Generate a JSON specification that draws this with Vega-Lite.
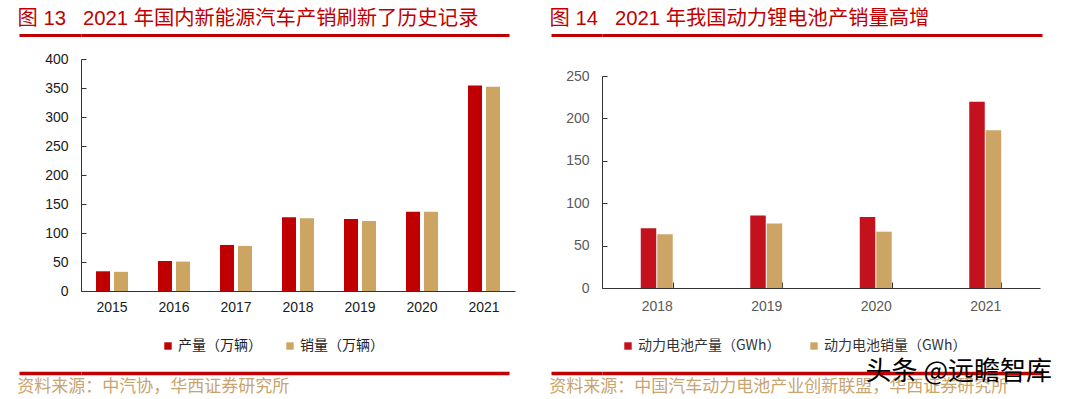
{
  "$schema": "https://vega.github.io/schema/vega-lite/v6.json",
  "background": "white",
  "padding": {"left": 17, "top": 9, "right": 0, "bottom": 0},
  "config": {
    "font": "Noto Sans CJK SC",
    "view": {"stroke": null}
  },
  "resolve": {"scale": {"x": "independent", "y": "independent", "color": "independent", "xOffset": "independent"}, "legend": {"color": "independent"}},
  "spacing": 34,
  "hconcat": [
    {
      "columns": 1,
      "align": "none",
      "spacing": 12,
      "resolve": {"scale": {"x": "independent", "y": "independent", "color": "independent", "xOffset": "independent"}, "legend": {"color": "independent"}},
      "concat": [
        {
          "title": {"text": "图 13\u00a0\u00a0\u00a02021 年国内新能源汽车产销刷新了历史记录", "anchor": "start", "fontSize": 20.3, "fontWeight": "normal", "color": "#C00000", "font": "Liberation Sans, Noto Sans CJK SC", "offset": 4},
          "width": 428,
          "height": 4.5,
          "data": {"values": [{"v": 0}]},
          "mark": {"type": "point", "size": 0, "opacity": 0, "strokeWidth": 0},
          "encoding": {
            "x": {"field": "v", "type": "quantitative", "scale": {"domain": [0, 1]}, "axis": {"orient": "top", "domainColor": "#C00000", "domainWidth": 3, "domainCap": "butt", "ticks": false, "labels": false, "grid": false, "title": null}},
            "y": {"field": "v", "type": "quantitative", "scale": {"domain": [0, 1]}, "axis": {"orient": "left", "values": [1], "domain": false, "labels": false, "grid": false, "title": null, "ticks": true, "tickSize": 62, "tickWidth": 3, "tickColor": "#C00000", "tickCap": "butt", "minExtent": 62, "maxExtent": 62}}
          }
        },
        {
          "width": 434,
          "height": 232,
          "data": {"values": [
            {"year": "2015", "series": "产量（万辆）", "value": 34.0},
            {"year": "2015", "series": "销量（万辆）", "value": 33.1},
            {"year": "2016", "series": "产量（万辆）", "value": 51.7},
            {"year": "2016", "series": "销量（万辆）", "value": 50.7},
            {"year": "2017", "series": "产量（万辆）", "value": 79.4},
            {"year": "2017", "series": "销量（万辆）", "value": 77.7},
            {"year": "2018", "series": "产量（万辆）", "value": 127.0},
            {"year": "2018", "series": "销量（万辆）", "value": 125.6},
            {"year": "2019", "series": "产量（万辆）", "value": 124.2},
            {"year": "2019", "series": "销量（万辆）", "value": 120.6},
            {"year": "2020", "series": "产量（万辆）", "value": 136.6},
            {"year": "2020", "series": "销量（万辆）", "value": 136.7},
            {"year": "2021", "series": "产量（万辆）", "value": 354.5},
            {"year": "2021", "series": "销量（万辆）", "value": 352.1}
          ]},
          "mark": {"type": "bar"},
          "encoding": {
            "x": {"field": "year", "type": "nominal", "scale": {"paddingInner": 0.4839, "paddingOuter": 0.2419},
              "axis": {"title": null, "labelAngle": 0, "labelFont": "Liberation Sans", "labelFontSize": 14, "labelColor": "#1a1a1a", "ticks": false, "labelPadding": 9, "domainColor": "#333333", "domainWidth": 1}},
            "xOffset": {"field": "series", "type": "nominal", "sort": ["产量（万辆）", "销量（万辆）"], "scale": {"paddingInner": 0.2222, "paddingOuter": 0}},
            "y": {"field": "value", "type": "quantitative", "scale": {"domain": [0, 400]},
              "axis": {"title": null, "values": [0, 50, 100, 150, 200, 250, 300, 350, 400], "grid": false, "labelFont": "Liberation Sans", "labelFontSize": 14, "labelColor": "#1a1a1a", "tickSize": -5, "tickColor": "#333333", "labelPadding": 18, "domainColor": "#333333", "minExtent": 62, "maxExtent": 62}},
            "color": {"field": "series", "type": "nominal", "sort": ["产量（万辆）", "销量（万辆）"],
              "scale": {"domain": ["产量（万辆）", "销量（万辆）"], "range": ["#C00000", "#CDA563"]},
              "legend": {"orient": "none", "legendX": 80, "legendY": 280, "direction": "horizontal", "title": null, "symbolType": "square", "symbolSize": 55, "symbolStrokeWidth": 0, "labelFontSize": 14, "labelFont": "Noto Sans CJK SC", "labelColor": "#222222", "columnPadding": 21, "labelOffset": 3}}
          }
        },
        {
          "title": {"text": "资料来源：中汽协，华西证券研究所", "orient": "bottom", "anchor": "start", "fontSize": 17, "fontWeight": "normal", "color": "#C8A46E", "offset": 4},
          "width": 428,
          "height": 8,
          "data": {"values": [{"v": 0}]},
          "mark": {"type": "point", "size": 0, "opacity": 0, "strokeWidth": 0},
          "encoding": {
            "x": {"field": "v", "type": "quantitative", "scale": {"domain": [0, 1]}, "axis": {"orient": "bottom", "domainColor": "#C00000", "domainWidth": 3.5, "domainCap": "butt", "ticks": false, "labels": false, "grid": false, "title": null}},
            "y": {"field": "v", "type": "quantitative", "scale": {"domain": [0, 1]}, "axis": {"orient": "left", "values": [0], "domain": false, "labels": false, "grid": false, "title": null, "ticks": true, "tickSize": 62, "tickWidth": 3.5, "tickColor": "#C00000", "tickCap": "butt", "minExtent": 62, "maxExtent": 62}}
          }
        }
      ]
    },
    {
      "columns": 1,
      "align": "none",
      "spacing": 12,
      "resolve": {"scale": {"x": "independent", "y": "independent", "color": "independent", "xOffset": "independent"}, "legend": {"color": "independent"}},
      "title": {"text": "头条 @远瞻智库", "orient": "bottom", "anchor": "end", "fontSize": 26, "fontWeight": "normal", "color": "#000000", "offset": -36, "dx": 10},
      "concat": [
        {
          "title": {"text": "图 14\u00a0\u00a0\u00a02021 年我国动力锂电池产销量高增", "anchor": "start", "fontSize": 20.3, "fontWeight": "normal", "color": "#C00000", "font": "Liberation Sans, Noto Sans CJK SC", "offset": 4},
          "width": 440,
          "height": 22,
          "data": {"values": [{"v": 0}]},
          "mark": {"type": "point", "size": 0, "opacity": 0, "strokeWidth": 0},
          "encoding": {
            "x": {"field": "v", "type": "quantitative", "scale": {"domain": [0, 1]}, "axis": {"orient": "top", "domainColor": "#C00000", "domainWidth": 3, "domainCap": "butt", "ticks": false, "labels": false, "grid": false, "title": null}},
            "y": {"field": "v", "type": "quantitative", "scale": {"domain": [0, 1]}, "axis": {"orient": "left", "values": [1], "domain": false, "labels": false, "grid": false, "title": null, "ticks": true, "tickSize": 51, "tickWidth": 3, "tickColor": "#C00000", "tickCap": "butt", "minExtent": 51, "maxExtent": 51}}
          }
        },
        {
          "width": 438,
          "height": 212,
          "data": {"values": [
            {"year": "2018", "series": "动力电池产量（GWh）", "value": 70.6},
            {"year": "2018", "series": "动力电池销量（GWh）", "value": 63.5},
            {"year": "2019", "series": "动力电池产量（GWh）", "value": 85.5},
            {"year": "2019", "series": "动力电池销量（GWh）", "value": 76.0},
            {"year": "2020", "series": "动力电池产量（GWh）", "value": 83.8},
            {"year": "2020", "series": "动力电池销量（GWh）", "value": 66.4},
            {"year": "2021", "series": "动力电池产量（GWh）", "value": 219.7},
            {"year": "2021", "series": "动力电池销量（GWh）", "value": 186.0}
          ]},
          "mark": {"type": "bar"},
          "encoding": {
            "x": {"field": "year", "type": "nominal", "scale": {"paddingInner": 0.7078, "paddingOuter": 0.3539},
              "axis": {"title": null, "labelAngle": 0, "labelFont": "Liberation Sans", "labelFontSize": 14, "labelColor": "#595959", "ticks": true, "tickBand": "extent", "tickSize": -6, "tickColor": "#333333", "labelPadding": 17, "domainColor": "#333333", "domainWidth": 1}},
            "xOffset": {"field": "series", "type": "nominal", "sort": ["动力电池产量（GWh）", "动力电池销量（GWh）"], "scale": {"paddingInner": 0.0606, "paddingOuter": 0}},
            "y": {"field": "value", "type": "quantitative", "scale": {"domain": [0, 250]},
              "axis": {"title": null, "values": [0, 50, 100, 150, 200, 250], "grid": false, "labelFont": "Liberation Sans", "labelFontSize": 14, "labelColor": "#595959", "tickSize": -5, "tickColor": "#333333", "labelPadding": 18, "domainColor": "#333333", "minExtent": 51, "maxExtent": 51}},
            "color": {"field": "series", "type": "nominal", "sort": ["动力电池产量（GWh）", "动力电池销量（GWh）"],
              "scale": {"domain": ["动力电池产量（GWh）", "动力电池销量（GWh）"], "range": ["#C3111E", "#CCA566"]},
              "legend": {"orient": "none", "legendX": 19, "legendY": 263, "direction": "horizontal", "title": null, "symbolType": "square", "symbolSize": 55, "symbolStrokeWidth": 0, "labelFontSize": 14, "labelFont": "Noto Sans CJK SC", "labelColor": "#333333", "columnPadding": 26, "labelOffset": 3}}
          }
        },
        {
          "title": {"text": "资料来源：中国汽车动力电池产业创新联盟，华西证券研究所", "orient": "bottom", "anchor": "start", "fontSize": 17, "fontWeight": "normal", "color": "#C8A46E", "offset": 4},
          "width": 440,
          "height": 8,
          "data": {"values": [{"v": 0}]},
          "mark": {"type": "point", "size": 0, "opacity": 0, "strokeWidth": 0},
          "encoding": {
            "x": {"field": "v", "type": "quantitative", "scale": {"domain": [0, 1]}, "axis": {"orient": "bottom", "domainColor": "#C00000", "domainWidth": 3.5, "domainCap": "butt", "ticks": false, "labels": false, "grid": false, "title": null}},
            "y": {"field": "v", "type": "quantitative", "scale": {"domain": [0, 1]}, "axis": {"orient": "left", "values": [0], "domain": false, "labels": false, "grid": false, "title": null, "ticks": true, "tickSize": 51, "tickWidth": 3.5, "tickColor": "#C00000", "tickCap": "butt", "minExtent": 51, "maxExtent": 51}}
          }
        }
      ]
    }
  ]
}
